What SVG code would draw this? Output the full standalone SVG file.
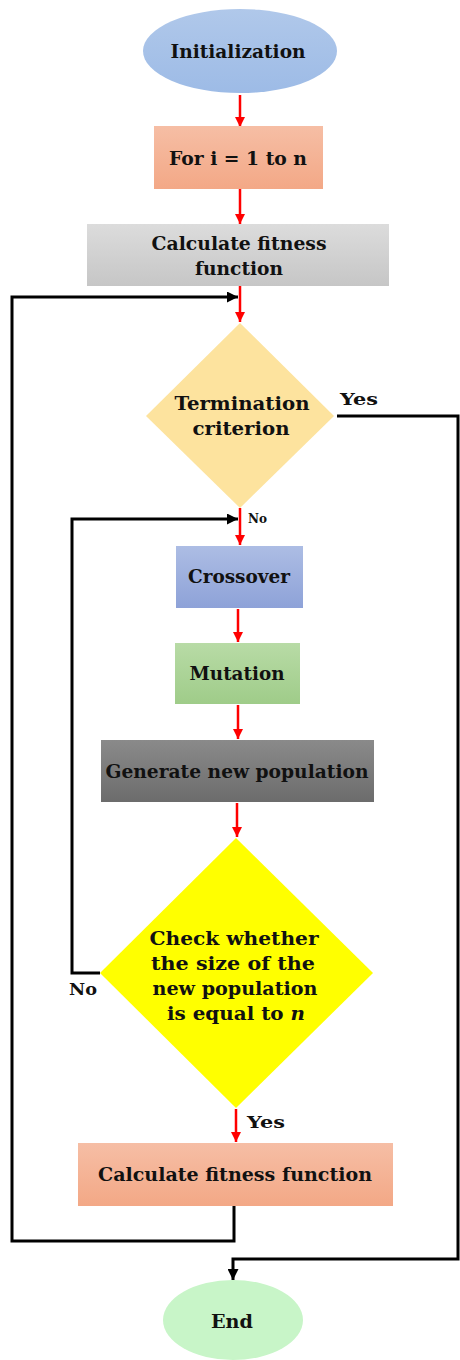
<svg xmlns="http://www.w3.org/2000/svg" width="460" height="1360" viewBox="0 0 460 1360">
<defs>
<style>
text{font-family:"DejaVu Serif","Liberation Serif",serif;font-weight:bold;font-size:18px;fill:#111;text-anchor:middle}
.sm{font-size:12px;text-anchor:start}
.lb{font-size:17px;text-anchor:start}
.red{stroke:#ff0000;stroke-width:2.5;fill:none}
.blk{stroke:#000;stroke-width:3;fill:none}
</style>
<linearGradient id="gSal" x1="0" y1="0" x2="0" y2="1"><stop offset="0" stop-color="#f6bea5"/><stop offset="1" stop-color="#f3a886"/></linearGradient>
<linearGradient id="gLg" x1="0" y1="0" x2="0" y2="1"><stop offset="0" stop-color="#dcdcdc"/><stop offset="1" stop-color="#c6c6c6"/></linearGradient>
<linearGradient id="gBl" x1="0" y1="0" x2="0" y2="1"><stop offset="0" stop-color="#adbde4"/><stop offset="1" stop-color="#8ea2d8"/></linearGradient>
<linearGradient id="gGr" x1="0" y1="0" x2="0" y2="1"><stop offset="0" stop-color="#b8dba6"/><stop offset="1" stop-color="#9fcc89"/></linearGradient>
<linearGradient id="gDg" x1="0" y1="0" x2="0" y2="1"><stop offset="0" stop-color="#8a8a8a"/><stop offset="1" stop-color="#6c6c6c"/></linearGradient>
<linearGradient id="gEl" x1="0" y1="0" x2="0" y2="1"><stop offset="0" stop-color="#b0c8ea"/><stop offset="1" stop-color="#9dbbe6"/></linearGradient>
<marker id="ar" viewBox="0 0 10 10" refX="10" refY="5" markerWidth="10" markerHeight="10" markerUnits="userSpaceOnUse" orient="auto"><path d="M0,0 L10,5 L0,10 z" fill="#ff0000"/></marker>
<marker id="ab" viewBox="0 0 10 10" refX="10" refY="5" markerWidth="11" markerHeight="11" markerUnits="userSpaceOnUse" orient="auto"><path d="M0,0 L10,5 L0,10 z" fill="#000"/></marker>
</defs>

<g id="connectors">
<line class="red" x1="240" y1="95" x2="240" y2="127" marker-end="url(#ar)"/>
<line class="red" x1="240" y1="189" x2="240" y2="224" marker-end="url(#ar)"/>
<line class="red" x1="240" y1="286" x2="240" y2="322" marker-end="url(#ar)"/>
<line class="red" x1="240" y1="508" x2="240" y2="545" marker-end="url(#ar)"/>
<line class="red" x1="238" y1="609" x2="238" y2="642" marker-end="url(#ar)"/>
<line class="red" x1="238" y1="705" x2="238" y2="739" marker-end="url(#ar)"/>
<line class="red" x1="237" y1="803" x2="237" y2="837" marker-end="url(#ar)"/>
<line class="red" x1="236" y1="1109" x2="236" y2="1142" marker-end="url(#ar)"/>
<polyline class="blk" points="234,1206 234,1241 12,1241 12,297 238,297" marker-end="url(#ab)"/>
<polyline class="blk" points="100,973 72,973 72,519 238,519" marker-end="url(#ab)"/>
<polyline class="blk" points="337,416 458,416 458,1259 233,1259 233,1280" marker-end="url(#ab)"/>
<text class="lb" x="340" y="405" textLength="38" lengthAdjust="spacingAndGlyphs">Yes</text>
<text class="sm" x="248" y="523">No</text>
<text class="lb" x="69" y="995" textLength="28" lengthAdjust="spacingAndGlyphs">No</text>
<text class="lb" x="247" y="1128" textLength="38" lengthAdjust="spacingAndGlyphs">Yes</text>
</g>

<g id="n-init">
<ellipse cx="240" cy="51" rx="97" ry="42" fill="url(#gEl)"/>
<text x="238" y="58" textLength="135" lengthAdjust="spacingAndGlyphs">Initialization</text>
</g>
<g id="n-for">
<rect x="154" y="126" width="169" height="63" fill="url(#gSal)"/>
<text x="238" y="165" textLength="138" lengthAdjust="spacingAndGlyphs">For i = 1 to n</text>
</g>
<g id="n-calc1">
<rect x="87" y="224" width="302" height="62" fill="url(#gLg)"/>
<text x="239" y="250" textLength="175" lengthAdjust="spacingAndGlyphs">Calculate  fitness</text>
<text x="239" y="275" textLength="88" lengthAdjust="spacingAndGlyphs">function</text>
</g>
<g id="n-term">
<polygon points="240,323 334,416 240,508 146,416" fill="#fde39e"/>
<text x="242" y="410" textLength="135" lengthAdjust="spacingAndGlyphs">Termination</text>
<text x="241" y="435" textLength="97" lengthAdjust="spacingAndGlyphs">criterion</text>
</g>
<g id="n-cross">
<rect x="176" y="546" width="127" height="62" fill="url(#gBl)"/>
<text x="239" y="583" textLength="102" lengthAdjust="spacingAndGlyphs">Crossover</text>
</g>
<g id="n-mut">
<rect x="175" y="643" width="125" height="61" fill="url(#gGr)"/>
<text x="237" y="680" textLength="95" lengthAdjust="spacingAndGlyphs">Mutation</text>
</g>
<g id="n-gen">
<rect x="101" y="740" width="273" height="62" fill="url(#gDg)"/>
<text x="237" y="778" textLength="263" lengthAdjust="spacingAndGlyphs">Generate  new population</text>
</g>
<g id="n-check">
<polygon points="236,838 373,973 236,1108 100,973" fill="#ffff00"/>
<text x="234" y="945" textLength="169" lengthAdjust="spacingAndGlyphs">Check whether</text>
<text x="233" y="970" textLength="164" lengthAdjust="spacingAndGlyphs">the size of the</text>
<text x="235" y="995" textLength="165" lengthAdjust="spacingAndGlyphs">new population</text>
<text x="236" y="1020" textLength="138" lengthAdjust="spacingAndGlyphs">is equal to <tspan font-style="italic">n</tspan></text>
</g>
<g id="n-calc2">
<rect x="78" y="1143" width="315" height="63" fill="url(#gSal)"/>
<text x="235" y="1181" textLength="274" lengthAdjust="spacingAndGlyphs">Calculate  fitness  function</text>
</g>
<g id="n-end">
<ellipse cx="233" cy="1320" rx="70" ry="40" fill="#c8f5c8"/>
<text x="232" y="1328" textLength="42" lengthAdjust="spacingAndGlyphs">End</text>
</g>
</svg>
